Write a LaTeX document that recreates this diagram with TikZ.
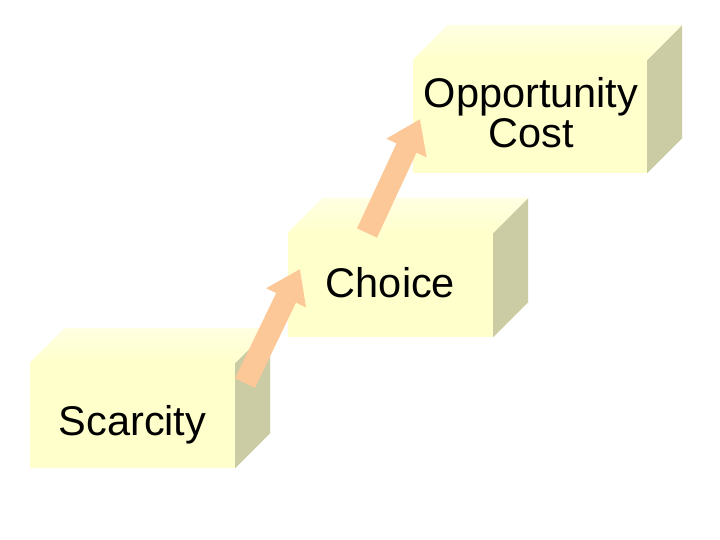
\documentclass[tikz,border=0pt]{standalone}
\usepackage{fontspec}
\setmainfont{Liberation Sans}
\usetikzlibrary{arrows.meta}

\definecolor{frontcol}{RGB}{255,255,204}
\definecolor{topcol}{RGB}{255,255,226}
\definecolor{sidecol}{RGB}{204,204,164}
\definecolor{arrowcol}{RGB}{252,200,152}

\tikzset{
    front/.style={rectangle, fill=frontcol, inner sep=0pt},
    label text/.style={font=\fontsize{41.5}{40}\selectfont, text=black, inner sep=0pt},
    step arrow/.style={draw=arrowcol, line width=22pt,
        -{Triangle[width=42pt,length=32pt]}},
}

% top and right faces of a box, drawn from its front node
\newcommand{\boxfaces}[1]{
    \fill[sidecol] (#1.north east) -- ++(35,-35)
        -- ([shift={(35,-35)}]#1.south east) -- (#1.south east) -- cycle;
    \shade[top color=topcol, bottom color=frontcol] (#1.north west) -- ++(35,-35)
        -- ([shift={(35,-35)}]#1.north east) -- (#1.north east) -- cycle;
}

\begin{document}
\begin{tikzpicture}[x=1pt, y=-1pt]
    \fill[white] (0,0) rectangle (720,540);

    % Scarcity
    \node[front, minimum width=205pt, minimum height=105pt] (scarcity) at (132.5,415.5) {};
    \boxfaces{scarcity}
    \node[label text, anchor=base] (scarcitytext) at (132.5,435) {Scarcity};

    % Choice
    \node[front, minimum width=205pt, minimum height=104pt] (choice) at (390.5,285) {};
    \boxfaces{choice}
    \node[label text, anchor=base] (choicetext) at (390.5,297) {Choice};

    % Opportunity Cost
    \node[front, minimum width=234pt, minimum height=113pt] (cost) at (530,116.5) {};
    \boxfaces{cost}
    \node[label text, align=center] (costtext) at (531,113) {Opportunity\\Cost};

    % arrows
    \coordinate (tail1) at (245,383);
    \coordinate (tip1) at (300,269);
    \coordinate (tail2) at (367,233);
    \coordinate (tip2) at (420,119);
    \draw[step arrow] (tail1) -- (tip1);
    \draw[step arrow] (tail2) -- (tip2);
\end{tikzpicture}
\end{document}
